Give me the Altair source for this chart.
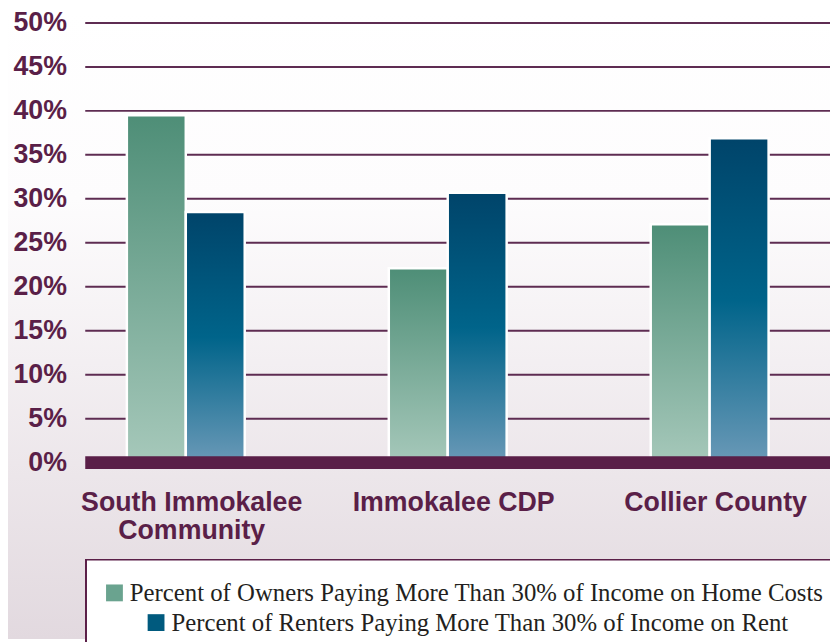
import altair as alt
import pandas as pd

regions = ["South Immokalee Community", "Immokalee CDP", "Collier County"]
owners_label = "Percent of Owners Paying More Than 30% of Income on Home Costs"
renters_label = "Percent of Renters Paying More Than 30% of Income on Rent"
owners = [39.5, 22.1, 27.1]
renters = [28.5, 30.7, 36.9]
y_ticks = [0, 5, 10, 15, 20, 25, 30, 35, 40, 45, 50]
grid_vals = [5, 10, 15, 20, 25, 30, 35, 40, 45, 50]

PURPLE = "#5a1f48"
rows = []
for r, o, n in zip(regions, owners, renters):
    rows.append({"region": r, "series": owners_label, "value": o})
    rows.append({"region": r, "series": renters_label, "value": n})
df = pd.DataFrame(rows)
grid_df = pd.DataFrame({"v": grid_vals})
zero_df = pd.DataFrame({"v": [0]})

W, H = 752, 444

green_grad = {"gradient": "linear", "x1": 0, "y1": 0, "x2": 0, "y2": 1,
              "stops": [{"offset": 0, "color": "#4e8e77"},
                        {"offset": 1, "color": "#a6c8ba"}]}
blue_grad = {"gradient": "linear", "x1": 0, "y1": 0, "x2": 0, "y2": 1,
             "stops": [{"offset": 0, "color": "#00446a"},
                       {"offset": 0.5, "color": "#00648a"},
                       {"offset": 1, "color": "#6a99b7"}]}
bg_grad = {"gradient": "linear", "x1": 0, "y1": 0, "x2": 0, "y2": 1,
           "stops": [{"offset": 0, "color": "#ffffff"},
                     {"offset": 0.3, "color": "#fdfcfd"},
                     {"offset": 1, "color": "#e2d9df"}]}

y_scale = alt.Scale(domain=[0, 50], nice=False)
y_axis = alt.Axis(values=y_ticks, labelExpr="datum.value + '%'", grid=False,
                  domain=False, ticks=False, labelFont="Liberation Sans",
                  labelFontWeight="bold", labelFontSize=27, labelColor=PURPLE,
                  labelPadding=19, zindex=1)

x_enc = alt.X("region:N", sort=regions, title=None,
              scale=alt.Scale(domain=regions, paddingInner=0.55, paddingOuter=0,
                              range=[42, 690]),
              axis=alt.Axis(labelAngle=0, ticks=False, domain=False, zindex=1,
                            labelFont="Liberation Sans", labelFontWeight="bold",
                            labelFontSize=27, labelColor=PURPLE, labelPadding=27,
                            labelLineHeight=29, labelLimit=0, labelOffset=6,
                            labelExpr="datum.label == 'South Immokalee Community' ? ['South Immokalee', 'Community'] : datum.label"))
xo_enc = alt.XOffset("series:N", scale=alt.Scale(domain=[owners_label, renters_label]))
y_enc = alt.Y("value:Q", title=None, scale=y_scale, axis=y_axis)

background = alt.Chart(df).mark_rect(color=bg_grad).encode(
    x=alt.value(-78), x2=alt.value(W), y=alt.value(-12), y2=alt.value(622))

legend_box = alt.Chart(df).mark_rect(fill="white", stroke=PURPLE, strokeWidth=1.5).encode(
    x=alt.value(1), x2=alt.value(W + 10), y=alt.value(542), y2=alt.value(640))

grid = alt.Chart(grid_df).mark_rule(color="#5e2c52", strokeWidth=2).encode(
    y=alt.Y("v:Q", title=None, scale=y_scale, axis=y_axis), x=alt.value(0), x2=alt.value(W))

bars_owners = alt.Chart(df).transform_filter(
    alt.datum.series == owners_label
).mark_bar(color=green_grad, stroke="white", strokeWidth=2.5).encode(
    x=x_enc, xOffset=xo_enc, y=y_enc)

bars_renters = alt.Chart(df).transform_filter(
    alt.datum.series == renters_label
).mark_bar(color=blue_grad, stroke="white", strokeWidth=2.5).encode(
    x=x_enc, xOffset=xo_enc, y=y_enc)

zero_line = alt.Chart(zero_df).mark_rule(color=PURPLE, strokeWidth=13).encode(
    y=alt.Y("v:Q", title=None, scale=y_scale, axis=y_axis), x=alt.value(0), x2=alt.value(W))

def legend_layer(label, col, lx, ly):
    return alt.Chart(df).transform_filter(alt.datum.series == label).mark_square(
        size=0, opacity=0).encode(
        color=alt.Color("series:N",
                        scale=alt.Scale(domain=[label], range=[col]),
                        legend=alt.Legend(orient="none", legendX=lx, legendY=ly, title=None,
                                          symbolType="square", symbolSize=289,
                                          symbolOpacity=1, symbolStrokeWidth=0,
                                          labelFont="Liberation Serif", labelFontSize=25,
                                          labelColor="#231f20", labelLimit=0,
                                          labelOffset=3, padding=0)))

leg1 = legend_layer(owners_label, "#6aa38f", 17, 563)
leg2 = legend_layer(renters_label, "#005a7e", 59, 593)

chart = alt.layer(background, legend_box, grid, bars_owners, bars_renters, zero_line,
                  leg1, leg2).resolve_scale(
    color="independent"
).properties(
    width=W, height=H,
    autosize=alt.AutoSizeParams(type="none"),
    padding={"left": 78, "top": 12, "right": 0, "bottom": 178},
).configure_view(stroke=None)

chart.save("out.html", embed_options={"renderer": "svg", "actions": False})
